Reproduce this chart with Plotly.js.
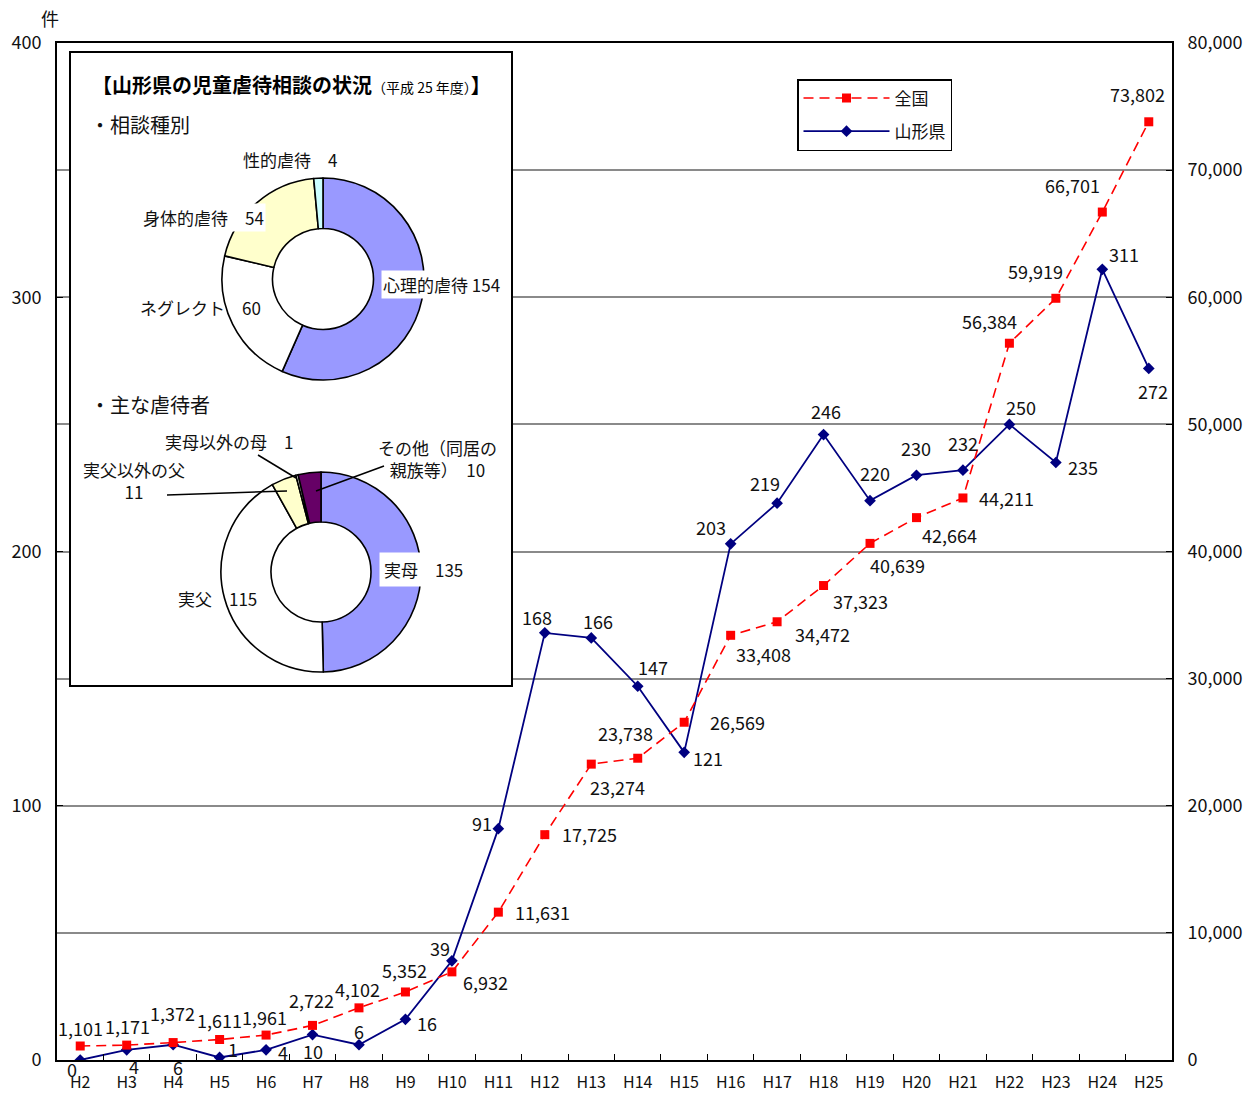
<!DOCTYPE html>
<html>
<head>
<meta charset="utf-8">
<script src="https://cdn.plot.ly/plotly-3.0.1.min.js"></script>
<style>html,body{margin:0;padding:0;background:#fff;}#chart{width:1258px;height:1094px;}</style>
</head>
<body>
<div id="chart"></div>
<script>
// ---- data ----
const years = ['H2','H3','H4','H5','H6','H7','H8','H9','H10','H11','H12','H13','H14','H15','H16','H17','H18','H19','H20','H21','H22','H23','H24','H25'];
const national = [1101,1171,1372,1611,1961,2722,4102,5352,6932,11631,17725,23274,23738,26569,33408,34472,37323,40639,42664,44211,56384,59919,66701,73802];
const yamagata = [0,4,6,1,4,10,6,16,39,91,168,166,147,121,203,219,246,220,230,232,250,235,311,272];
const seriesNames = ['全国','山形県'];

const typeLabels = ['心理的虐待','ネグレクト','身体的虐待','性的虐待'];
const typeValues = [154,60,54,4];
const abuserLabels = ['実母','実父','実父以外の父','実母以外の母','その他（同居の親族等）'];
const abuserValues = [135,115,11,1,10];

const insetTitle = '【山形県の児童虐待相談の状況';
const insetTitleSmall = '（平成 25 年度）';
const section1 = '・相談種別';
const section2 = '・主な虐待者';
const unitLabel = '件';

// ---- styling / label placement (pixel shifts from each point) ----
const natShift = [[0,-18],[1,-19],[-1,-30],[0,-20],[-2,-18],[-1,-25],[-1,-19],[-1,-22],[34,10],[44,0],[45,-1],[26,23],[-12,-25],[53,0],[33,19],[45,12],[37,15],[27,22],[33,17],[44,0],[-20,-22],[-20,-27],[-30,-27],[-11,-28]];
const yamShift = [[-8,9],[7,16],[5,22],[13,-8],[17,2],[0,16],[0,-14],[22,4],[-12,-13],[-16,-6],[-8,-16],[7,-17],[15,-19],[24,6],[-20,-17],[-12,-20],[2,-24],[5,-28],[0,-27],[0,-27],[12,-17],[27,4],[22,-15],[4,23]];

const FONT = '"Noto Sans CJK JP", "Noto Sans", sans-serif';
const W = 1258, H = 1094;
const M = {l:57, r:86, t:43, b:34};
const PW = W - M.l - M.r, PH = H - M.t - M.b;
const fx = p => (p - M.l) / PW;
const fy = p => (H - M.b - p) / PH;
// pixel -> axis-space helpers for the inset frame (layout position only)
const NCAT = years.length;
const ax = p => fx(p) * NCAT - 0.5;
const ay = p => fy(p) * 400;

const fmt = v => v.toLocaleString('en-US');

const traces = [
  {
    type:'scatter', mode:'lines+markers', name:seriesNames[0], legendgroup:'a',
    x: years, y: national, yaxis:'y2',
    line:{color:'#FF0000', width:1.6, dash:'10px,6px'},
    marker:{symbol:'square', size:9, color:'#FF0000'},
    hoverinfo:'skip'
  },
  {
    type:'scatter', mode:'lines+markers', name:seriesNames[1], legendgroup:'b',
    x: years, y: yamagata, yaxis:'y',
    line:{color:'#000080', width:1.8},
    marker:{symbol:'diamond', size:9, color:'#000080'},
    hoverinfo:'skip'
  },
  {
    type:'pie', values:typeValues, labels:typeLabels, hole:0.5, sort:false,
    direction:'clockwise', rotation:0, textinfo:'none', hoverinfo:'skip', showlegend:false,
    marker:{colors:['#9999FF','#FFFFFF','#FFFFCC','#CCFFFF'], line:{color:'#000', width:1.6}},
    domain:{x:[fx(222), fx(424)], y:[fy(380), fy(178)]}
  },
  {
    type:'pie', values:abuserValues, labels:abuserLabels, hole:0.5, sort:false,
    direction:'clockwise', rotation:0, textinfo:'none', hoverinfo:'skip', showlegend:false,
    marker:{colors:['#9999FF','#FFFFFF','#FFFFCC','#FFFFFF','#660066'], line:{color:'#000', width:1.6}},
    domain:{x:[fx(221), fx(421)], y:[fy(672), fy(472)]}
  }
];

const annotations = [];
national.forEach((v,i) => annotations.push({
  x: years[i], y: v, xref:'x', yref:'y2', text: fmt(v), showarrow:false,
  xanchor:'center', yanchor:'middle',
  xshift: natShift[i][0], yshift: -natShift[i][1], font:{size:18, color:'#111', family:FONT}
}));
yamagata.forEach((v,i) => annotations.push({
  x: years[i], y: v, xref:'x', yref:'y', text: String(v), showarrow:false,
  xanchor:'center', yanchor:'middle',
  xshift: yamShift[i][0], yshift: -yamShift[i][1], font:{size:18, color:'#111', family:FONT}
}));

const pAnn = (px, py, text, opts) => Object.assign({
  x: fx(px), y: fy(py), xref:'paper', yref:'paper', text, showarrow:false,
  xanchor:'center', yanchor:'middle', borderpad:1,
  font:{size:17, color:'#111', family:FONT}
}, opts||{});

annotations.push(pAnn(50, 18, unitLabel, {font:{size:18,color:'#111',family:FONT}}));
annotations.push(pAnn(90, 84, '<b>' + insetTitle + '</b><span style="font-size:14px">' + insetTitleSmall + '</span><b>】</b>', {xanchor:'left', font:{size:20,color:'#000',family:FONT}}));
annotations.push(pAnn(88, 125, section1, {xanchor:'left', font:{size:20,color:'#111',family:FONT}}));
annotations.push(pAnn(88, 405, section2, {xanchor:'left', font:{size:20,color:'#111',family:FONT}}));

// pie labels
annotations.push(pAnn(290, 159, typeLabels[3] + '　' + typeValues[3]));
annotations.push(pAnn(203, 218, typeLabels[2] + '　' + typeValues[2], {bgcolor:'#fff'}));
annotations.push(pAnn(200, 307, typeLabels[1] + '　' + typeValues[1]));
annotations.push(pAnn(441, 284, typeLabels[0] + ' ' + typeValues[0], {bgcolor:'#fff'}));

annotations.push(pAnn(423, 569, abuserLabels[0] + '　' + abuserValues[0], {bgcolor:'#fff', borderpad:4}));
annotations.push(pAnn(217, 598, abuserLabels[1] + '　' + abuserValues[1]));
annotations.push(pAnn(134, 480, abuserLabels[2] + '<br>' + abuserValues[2]));
annotations.push(pAnn(229, 441, abuserLabels[3] + '　' + abuserValues[3]));
annotations.push(pAnn(437, 458, 'その他（同居の<br>親族等）　' + abuserValues[4]));

const shapes = [
  {type:'rect', xref:'x', yref:'y', x0:ax(70), x1:ax(512), y0:ay(686), y1:ay(52),
   fillcolor:'#fff', line:{color:'#000', width:2}, layer:'between'},
  {type:'line', xref:'paper', yref:'paper', x0:fx(258), y0:fy(455), x1:fx(296), y1:fy(478), line:{color:'#000', width:1.5}},
  {type:'line', xref:'paper', yref:'paper', x0:fx(167), y0:fy(495), x1:fx(287), y1:fy(491), line:{color:'#000', width:1.5}},
  {type:'line', xref:'paper', yref:'paper', x0:fx(384), y0:fy(466), x1:fx(316), y1:fy(491), line:{color:'#000', width:1.5}}
];

const layout = {
  width: W, height: H,
  margin: {l:M.l, r:M.r, t:M.t, b:M.b, pad:0},
  paper_bgcolor:'#fff', plot_bgcolor:'#fff',
  font:{family:FONT, size:18, color:'#111'},
  showlegend:true,
  legend:{x:fx(797), y:fy(79), xanchor:'left', yanchor:'top', bgcolor:'#fff',
          bordercolor:'#000', borderwidth:1.5, font:{size:17, family:FONT},
          traceorder:'grouped', tracegroupgap:8, itemwidth:86},
  xaxis:{type:'category', range:[-0.5, 23.5], tickson:'boundaries', ticks:'inside', ticklen:6,
         tickcolor:'#000', showline:true, linecolor:'#000', linewidth:2, mirror:true,
         showgrid:false, tickfont:{size:16, family:FONT}, ticklabelstandoff:7, fixedrange:true},
  yaxis:{range:[0,400], dtick:100, ticks:'inside', ticklen:6, tickcolor:'#000',
         showline:true, linecolor:'#000', linewidth:2, zeroline:false,
         showgrid:true, gridcolor:'#8a8a8a', gridwidth:2,
         minor:{dtick:50, showgrid:true, gridcolor:'#8a8a8a', gridwidth:2, ticks:''},
         tickfont:{size:18, family:FONT}, ticklabelstandoff:10, fixedrange:true},
  yaxis2:{range:[0,80000], dtick:10000, overlaying:'y', side:'right', tickformat:',d',
          ticks:'inside', ticklen:6, tickcolor:'#000', showline:true, linecolor:'#000', linewidth:2,
          showgrid:false, zeroline:false,
          tickfont:{size:18, family:FONT}, ticklabelstandoff:10, fixedrange:true},
  annotations, shapes
};

Plotly.newPlot('chart', traces, layout, {staticPlot:true});
</script>
</body>
</html>
